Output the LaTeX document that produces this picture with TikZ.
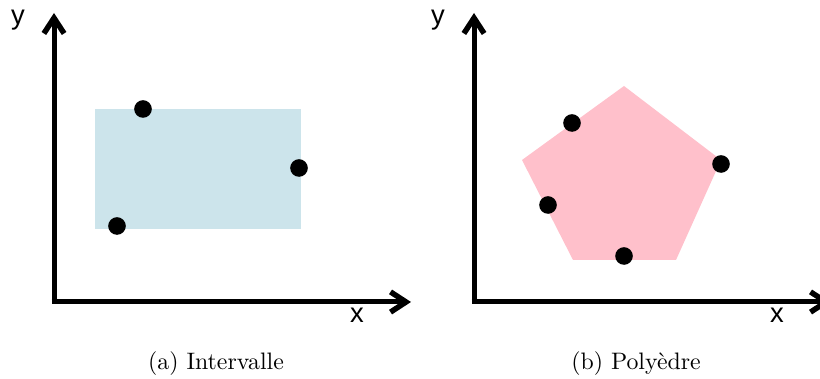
\documentclass[tikz,border=0pt]{standalone}
\usepackage{fontspec}
\newfontfamily\axfont{Liberation Sans}
\usetikzlibrary{arrows.meta}
\definecolor{boxblue}{RGB}{204,228,235}
\definecolor{polypink}{RGB}{255,192,203}
\tikzset{
  axis/.style={line width=2.1pt, -{Straight Barb[length=6.5pt,width=8.5pt,line width=2.3pt]}},
  pt/.style={circle, fill=black, inner sep=0pt, minimum size=7.4pt},
  axlabel/.style={font=\axfont\fontsize{11.5}{12}\selectfont, inner sep=0pt},
  caption/.style={font=\normalsize, inner sep=0pt}
}
\begin{document}
\begin{tikzpicture}[x=0.42pt, y=-0.42pt]
\useasboundingbox (0,0) rectangle (820,379);
% ---- left panel
\fill[boxblue] (95,109) rectangle (301,229);
\coordinate (oa) at (54,302);
\coordinate (ya) at (54,13);
\coordinate (xa) at (411,302);
\draw[axis] (oa) -- (ya);
\draw[axis] ([xshift=-1pt]oa) -- (xa);
\node[axlabel] (lya) at (18,20) {y};
\node[axlabel] (lxa) at (357,315) {x};
\node[pt] (a1) at (143,109) {};
\node[pt] (a2) at (299,168) {};
\node[pt] (a3) at (117,226) {};
\node[caption] (capa) at (216,364) {(a) Intervalle};
% ---- right panel
\fill[polypink] (624,86) -- (721,160) -- (676,260) -- (573,260) -- (522,160) -- cycle;
\coordinate (ob) at (474,302);
\coordinate (yb) at (474,13);
\coordinate (xb) at (831,302);
\draw[axis] (ob) -- (yb);
\draw[axis] ([xshift=-1pt]ob) -- (xb);
\node[axlabel] (lyb) at (438,20) {y};
\node[axlabel] (lxb) at (777,315) {x};
\node[pt] (b1) at (572,123) {};
\node[pt] (b2) at (721,164) {};
\node[pt] (b3) at (548,205) {};
\node[pt] (b4) at (624,256) {};
\node[caption] (capb) at (636,364) {(b) Polyèdre};
\end{tikzpicture}
\end{document}
